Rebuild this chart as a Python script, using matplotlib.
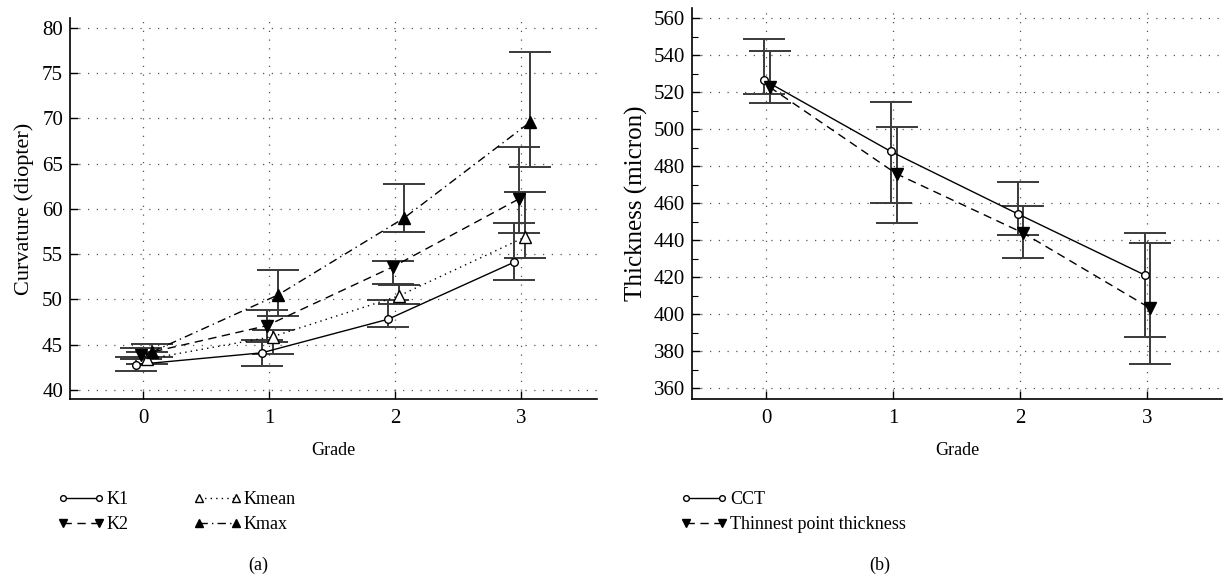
import numpy as np
import matplotlib.pyplot as plt
from matplotlib.ticker import MultipleLocator

plt.rcParams['font.family'] = ['Liberation Serif', 'DejaVu Serif']
plt.rcParams['font.size'] = 12

grades = [0, 1, 2, 3]

# Curvature (diopter): mean, lower error, upper error
k1 = [42.8, 44.1, 47.8, 54.1]
k1_lo = [0.7, 1.5, 0.8, 2.0]
k1_hi = [0.8, 1.4, 2.1, 4.4]
k2 = [43.9, 47.1, 53.6, 61.1]
k2_lo = [0.5, 1.8, 1.9, 3.8]
k2_hi = [0.7, 1.7, 0.6, 5.8]
kmean = [43.4, 45.9, 50.4, 56.9]
kmean_lo = [0.5, 1.95, 0.9, 2.35]
kmean_hi = [0.8, 0.7, 1.2, 5.0]
kmax = [44.2, 50.5, 59.0, 69.6]
kmax_lo = [0.6, 2.3, 1.6, 5.0]
kmax_hi = [0.9, 2.7, 3.8, 7.7]

# Thickness (micron)
cct = [526.5, 487.9, 454.2, 421.2]
cct_lo = [7.6, 27.7, 11.5, 33.3]
cct_hi = [22.3, 26.9, 17.3, 22.8]
thin = [522.7, 475.8, 443.8, 403.2]
thin_lo = [8.7, 26.6, 13.7, 30.1]
thin_hi = [19.3, 25.4, 14.6, 35.0]

W, H = 1224, 578
fig = plt.figure(figsize=(W / 100, H / 100), dpi=100)
ax1 = fig.add_axes([70 / W, 1 - 399 / H, 527 / W, (399 - 18) / H])
ax2 = fig.add_axes([692 / W, 1 - 399 / H, 530 / W, (399 - 8) / H])

bar_color = '#3a3a3a'


def series(ax, x, y, lo, hi, ls, marker, mfc, ms, label):
    ax.errorbar(x, y, yerr=[lo, hi], fmt='none', ecolor=bar_color,
                elinewidth=1.4, capsize=15, capthick=1.4, zorder=2)
    ax.plot(x, y, color='black', linestyle=ls, linewidth=1.0,
            marker=marker, markerfacecolor=mfc, markeredgecolor='black',
            markersize=ms, label=label, zorder=3)


g = np.array(grades, dtype=float)
series(ax1, g - 0.06, k1, k1_lo, k1_hi, '-', 'o', 'white', 5.5, 'K1')
series(ax1, g - 0.02, k2, k2_lo, k2_hi, (0, (6, 4)), 'v', 'black', 8, 'K2')
series(ax1, g + 0.03, kmean, kmean_lo, kmean_hi, (0, (1, 3)), '^', 'white', 8, 'Kmean')
series(ax1, g + 0.07, kmax, kmax_lo, kmax_hi, (0, (6, 3, 1, 3)), '^', 'black', 8, 'Kmax')

series(ax2, g - 0.02, cct, cct_lo, cct_hi, '-', 'o', 'white', 5.5, 'CCT')
series(ax2, g + 0.025, thin, thin_lo, thin_hi, (0, (6, 4)), 'v', 'black', 8,
       'Thinnest point thickness')

ax1.set_xlim(-0.58, 3.6)
ax1.set_ylim(39.0, 81.1)
ax1.set_yticks(np.arange(40, 81, 5))
ax1.set_ylabel('Curvature (diopter)', fontsize=16, labelpad=6)

ax2.set_xlim(-0.587, 3.59)
ax2.set_ylim(354.2, 565.4)
ax2.set_yticks(np.arange(360, 561, 20))
ax2.yaxis.set_minor_locator(MultipleLocator(10))
ax2.set_ylabel('Thickness (micron)', fontsize=18, labelpad=4)

for ax in (ax1, ax2):
    ax.set_xticks(grades)
    ax.set_xlabel('Grade', fontsize=13, labelpad=10)
    ax.spines['top'].set_visible(False)
    ax.spines['right'].set_visible(False)
    ax.spines['left'].set_linewidth(1.2)
    ax.spines['bottom'].set_linewidth(1.2)
    ax.tick_params(direction='in', length=6, width=1.0, labelsize=15)
    ax.tick_params(which='minor', direction='in', length=4, width=0.8)
    ax.tick_params(axis='x', pad=7)
    ax.tick_params(axis='y', pad=5)
    ax.grid(True, color='#555555', linestyle=(0, (1, 6)), linewidth=0.9)
    ax.set_axisbelow(True)

leg_kw = dict(frameon=False, fontsize=13, numpoints=2, handlelength=2.6,
              handletextpad=0.15, labelspacing=0.45, borderaxespad=0)
h1, l1 = ax1.get_legend_handles_labels()
fig.legend(h1, l1, loc='upper left', bbox_to_anchor=(50 / W, 1 - 484 / H),
           ncol=2, columnspacing=3.6, markerscale=0.75, **leg_kw)
h2, l2 = ax2.get_legend_handles_labels()
fig.legend(h2, l2, loc='upper left', bbox_to_anchor=(673 / W, 1 - 484 / H),
           markerscale=0.75, **leg_kw)

fig.text(258 / W, 1 - 565 / H, '(a)', ha='center', va='center', fontsize=13)
fig.text(880 / W, 1 - 565 / H, '(b)', ha='center', va='center', fontsize=13)

fig.savefig('out.png', dpi=100)
